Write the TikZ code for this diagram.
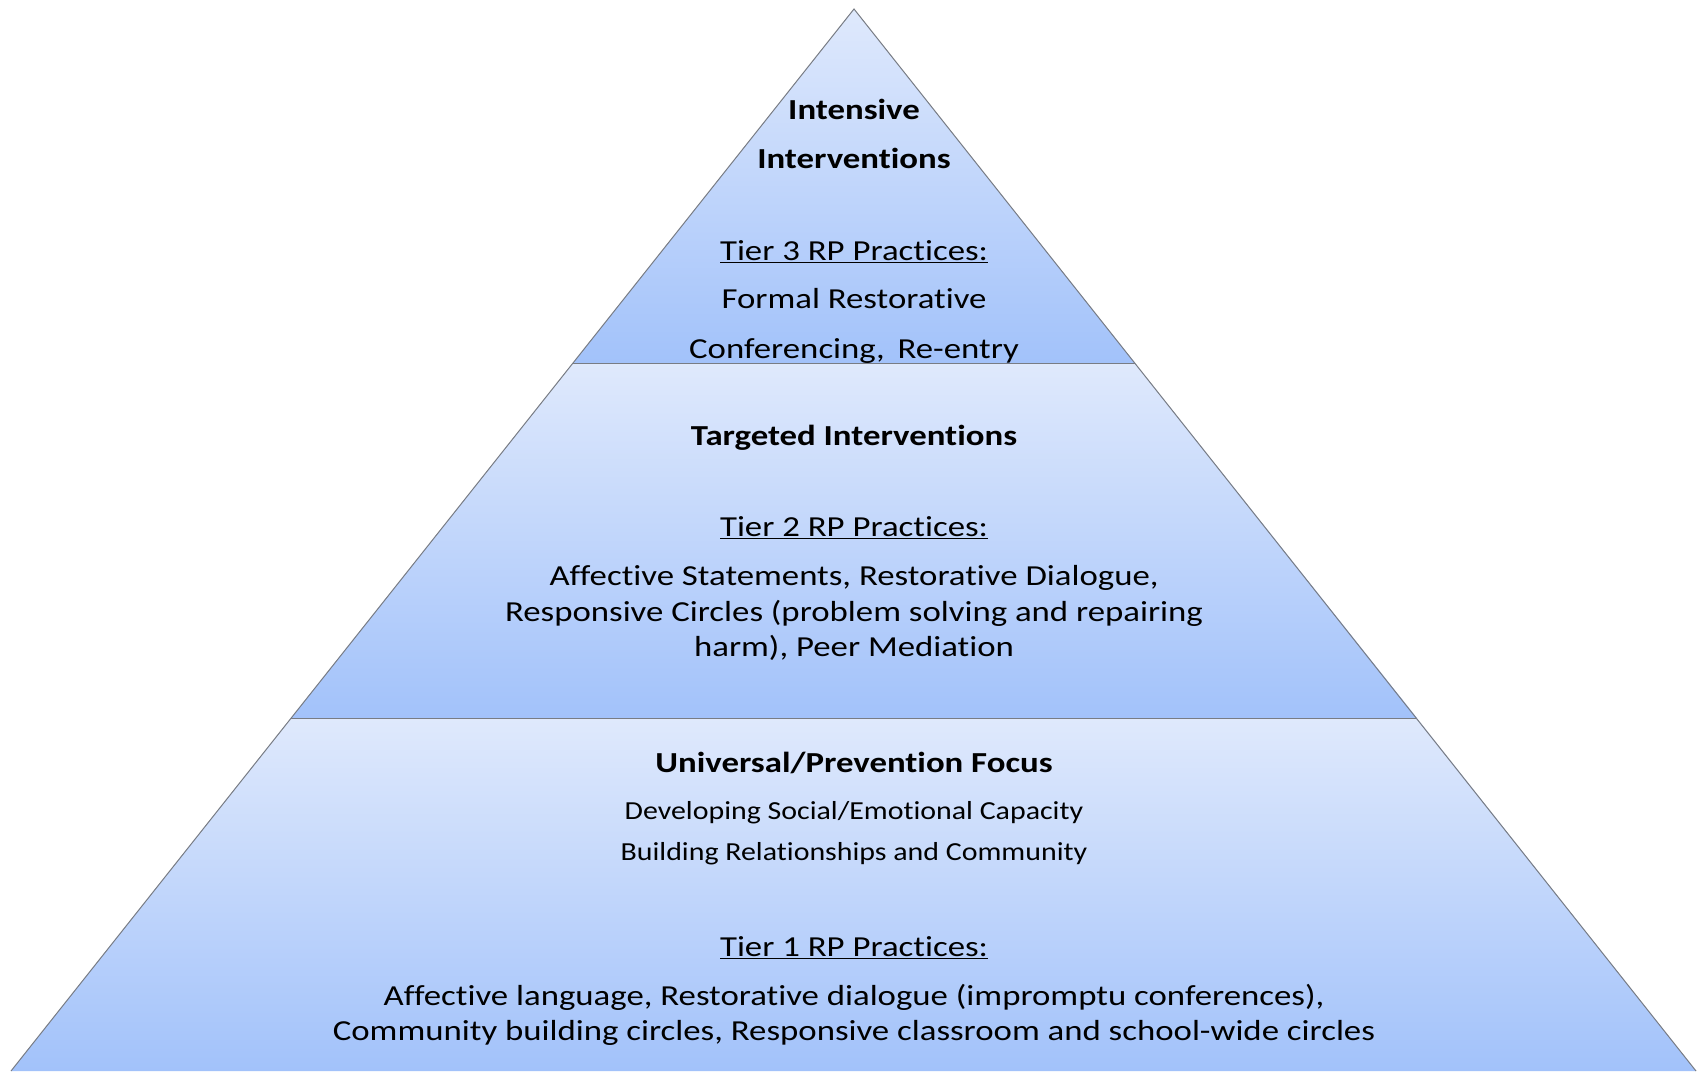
\documentclass[tikz,border=0pt]{standalone}
\usepackage{fontspec}
\setmainfont{Carlito}[FakeStretch=1.2, Ligatures=NoCommon]
\usepackage{tikz}
\definecolor{pyrtop}{RGB}{223,233,252}
\definecolor{pyrbot}{RGB}{162,194,250}
\definecolor{pyredge}{RGB}{120,124,132}
\tikzset{
  tier/.style = {top color=pyrtop, bottom color=pyrbot},
  rim/.style = {draw=pyredge, line width=1pt},
  line/.style = {inner sep=0, text height=0.7em, text depth=0.22em,
                 font=\fontsize{29}{35}\selectfont},
  heading/.style = {line, font=\fontsize{29}{35}\selectfont\bfseries},
  focus/.style = {line, font=\fontsize{26}{30}\selectfont\addfontfeatures{FakeStretch=1.15}},
}
\begin{document}
\begin{tikzpicture}[x=1pt, y=-1pt]
\useasboundingbox (0,0) rectangle (1702,1071);
\coordinate (apex) at (854,9);
\coordinate (l1) at (573,363);
\coordinate (r1) at (1135,363);
\coordinate (l2) at (291,718);
\coordinate (r2) at (1417,718);
\coordinate (l3) at (11,1071);
\coordinate (r3) at (1696,1071);
% tiers
\shade[tier] (apex) -- (r1) -- (l1) -- cycle;
\shade[tier] (l1) -- (r1) -- (r2) -- (l2) -- cycle;
\shade[tier] (l2) -- (r2) -- (r3) -- (l3) -- cycle;
\draw[rim] (l3) -- (apex) -- (r3);
\draw[rim] (l1) -- (r1);
\draw[rim] (l2) -- (r2);
% top tier
\node[heading] (t3a) at (854,117) {Intensive};
\node[heading] (t3b) at (854,166) {Interventions};
\node[line] (t3c) at (854,258) {\underline{Tier 3 RP Practices:}};
\node[line] (t3d) at (854,306) {Formal Restorative};
\node[line] (t3e) at (854,356) {Conferencing,\, Re-entry};
% middle tier
\node[heading] (t2a) at (854,443) {Targeted Interventions};
\node[line] (t2b) at (854,534) {\underline{Tier 2 RP Practices:}};
\node[line] (t2c) at (854,583) {Affective Statements, Restorative Dialogue,};
\node[line] (t2d) at (854,619) {Responsive Circles (problem solving and repairing};
\node[line] (t2e) at (854,654) {harm), Peer Mediation};
% bottom tier
\node[heading] (t1a) at (854,770) {Universal/Prevention Focus};
\node[focus] (t1b) at (854,817) {Developing Social/Emotional Capacity};
\node[focus] (t1c) at (854,858) {Building Relationships and Community};
\node[line] (t1d) at (854,954) {\underline{Tier 1 RP Practices:}};
\node[line] (t1e) at (854,1003) {Affective language, Restorative dialogue (impromptu conferences),};
\node[line] (t1f) at (854,1038) {Community building circles, Responsive classroom and school-wide circles};
\end{tikzpicture}
\end{document}
